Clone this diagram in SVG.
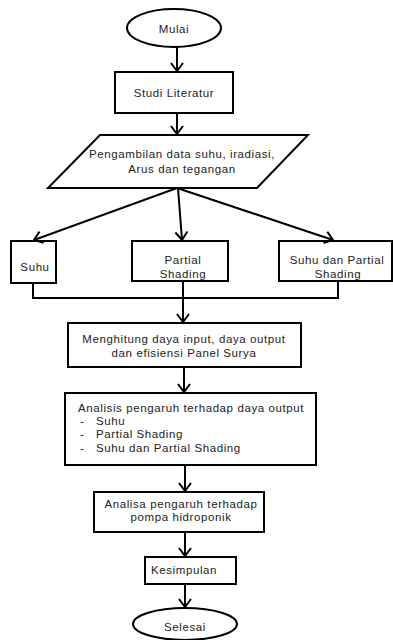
<svg xmlns="http://www.w3.org/2000/svg" width="393" height="640" viewBox="0 0 393 640">
<defs>
<marker id="arr" viewBox="0 0 10 14" refX="9" refY="7" markerWidth="10" markerHeight="14" markerUnits="userSpaceOnUse" orient="auto">
<path d="M1,1 L9,7 L1,13" fill="none" stroke="#000" stroke-width="2"/>
</marker>
<style>
.s{fill:#fff;stroke:#000;stroke-width:2}
.t{font-family:"Liberation Sans",Arial,sans-serif;font-size:11.5px;letter-spacing:0.6px;fill:#222;text-anchor:middle}
.l{text-anchor:start}
.c{fill:none;stroke:#000;stroke-width:2}
</style>
</defs>
<rect width="393" height="640" fill="#fff"/>
<g id="mulai"><ellipse class="s" cx="174" cy="28" rx="47" ry="19"/><text class="t" x="174" y="33">Mulai</text></g>
<g id="studi"><rect class="s" x="115" y="72" width="118" height="41"/><text class="t" x="174" y="97">Studi Literatur</text></g>
<g id="pengambilan"><polygon class="s" points="100,135 308,135 257,188 48,188"/><text class="t" x="182" y="158">Pengambilan data suhu, iradiasi,</text><text class="t" x="182" y="173">Arus dan tegangan</text></g>
<g id="suhu"><rect class="s" x="11" y="241" width="45" height="42"/><text class="t" x="35" y="271">Suhu</text></g>
<g id="partial"><rect class="s" x="132" y="241" width="96" height="40"/><text class="t" x="183" y="264">Partial</text><text class="t" x="183" y="278">Shading</text></g>
<g id="suhupartial"><rect class="s" x="279" y="241" width="113" height="40"/><text class="t" x="337" y="264">Suhu dan Partial</text><text class="t" x="338" y="278">Shading</text></g>
<g id="menghitung"><rect class="s" x="68" y="323" width="233" height="44"/><text class="t" x="184" y="343">Menghitung daya input, daya output</text><text class="t" x="184" y="357">dan efisiensi Panel  Surya</text></g>
<g id="analisis"><rect class="s" x="65" y="393" width="251" height="72"/>
<text class="t l" x="78" y="412">Analisis pengaruh terhadap daya output</text>
<text class="t l" x="80" y="425">-</text><text class="t l" x="96" y="425">Suhu</text>
<text class="t l" x="80" y="438">-</text><text class="t l" x="96" y="438">Partial Shading</text>
<text class="t l" x="80" y="452">-</text><text class="t l" x="96" y="452">Suhu dan Partial Shading</text></g>
<g id="analisa"><rect class="s" x="94" y="492" width="170" height="40"/><text class="t" x="181" y="508">Analisa pengaruh terhadap</text><text class="t" x="181" y="521">pompa hidroponik</text></g>
<g id="kesimpulan"><rect class="s" x="145" y="557" width="91" height="27"/><text class="t" x="184" y="574">Kesimpulan</text></g>
<g id="selesai"><ellipse class="s" cx="185" cy="624" rx="52" ry="16"/><text class="t" x="185" y="631">Selesai</text></g>
<g id="connectors">
<line class="c" x1="177" y1="47" x2="177" y2="71" marker-end="url(#arr)"/>
<line class="c" x1="177" y1="113" x2="177" y2="134" marker-end="url(#arr)"/>
<line class="c" x1="177" y1="188" x2="34" y2="240" marker-end="url(#arr)"/>
<line class="c" x1="178" y1="188" x2="182" y2="240" marker-end="url(#arr)"/>
<line class="c" x1="177" y1="188" x2="333" y2="240" marker-end="url(#arr)"/>
<polyline class="c" points="33,283 33,298 338,298 338,281"/>
<line class="c" x1="183" y1="281" x2="183" y2="322" marker-end="url(#arr)"/>
<line class="c" x1="184" y1="367" x2="184" y2="392" marker-end="url(#arr)"/>
<line class="c" x1="185" y1="465" x2="185" y2="491" marker-end="url(#arr)"/>
<line class="c" x1="185" y1="532" x2="185" y2="556" marker-end="url(#arr)"/>
<line class="c" x1="185" y1="584" x2="185" y2="607" marker-end="url(#arr)"/>
</g>
</svg>
